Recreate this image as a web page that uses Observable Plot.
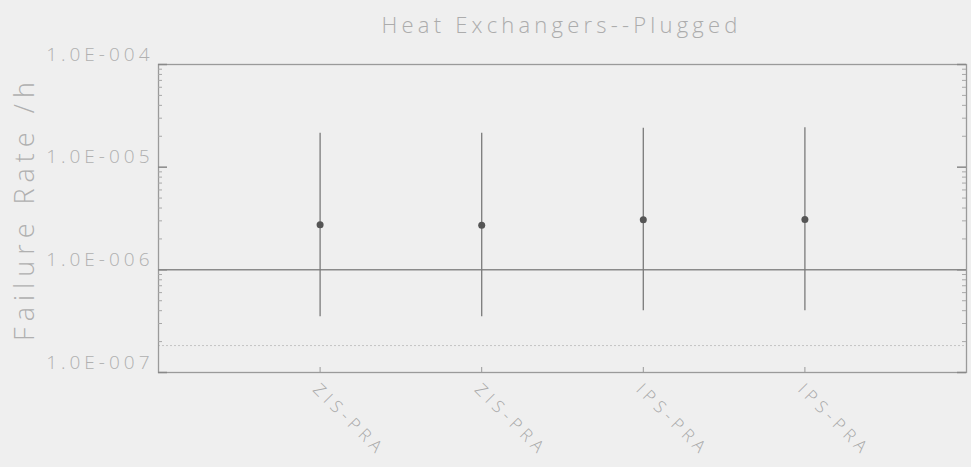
<!DOCTYPE html>
<html>
<head>
<meta charset="utf-8">
<script src="https://cdn.jsdelivr.net/npm/d3@7"></script>
<script src="https://cdn.jsdelivr.net/npm/@observablehq/plot@0.6"></script>
<style>
  body { margin: 0; background: #efefef; font-family: "Open Sans", Lato, sans-serif; }
  #title { height: 40px; width: 971px; position: relative; }
  #title span { position: absolute; left: 157px; width: 809px; top: 9px; text-align: center;
    font-size: 22px; font-weight: 300; color: #acacac; letter-spacing: 4.2px; }
</style>
</head>
<body>
<div id="title"><span>Heat Exchangers--Plugged</span></div>
<div id="chart"></div>
<script>
const labels = ["ZIS-PRA", "ZIS-PRA", "IPS-PRA", "IPS-PRA"];
const positions = [1, 2, 3, 4];
const estimates = [2.75e-6, 2.72e-6, 3.07e-6, 3.1e-6];
const upper = [2.14e-5, 2.14e-5, 2.4e-5, 2.42e-5];
const lower = [3.5e-7, 3.5e-7, 4.0e-7, 4.0e-7];
const refLines = [1e-6];
const dottedLines = [1.83e-7];
const yTickValues = [1e-7, 1e-6, 1e-5, 1e-4];
const yTickLabels = ["1.0E-007", "1.0E-006", "1.0E-005", "1.0E-004"];
const yLabel = "Failure Rate /h";

const data = labels.map((label, i) => ({
  label, pos: positions[i], est: estimates[i], hi: upper[i], lo: lower[i]
}));
const minor = [];
for (let e = -7; e < -4; e++) for (let k = 2; k <= 9; k++) minor.push(k * Math.pow(10, e));
const yTicks = yTickValues.map((v, i) => ({v, t: yTickLabels[i]}));

const W = 971, H = 427, mL = 158, mR = 5, mT = 24, mB = 95;
const fw = W - mL - mR, fh = H - mT - mB;

const chart = Plot.plot({
  width: W, height: H,
  marginLeft: mL, marginRight: mR, marginTop: mT, marginBottom: mB,
  style: { background: "#efefef", fontFamily: "'Open Sans', Lato, sans-serif", color: "#aaa", overflow: "visible" },
  x: { type: "linear", domain: [0, 5], axis: null },
  y: { type: "log", domain: [1e-7, 1e-4], axis: null },
  marks: [
    Plot.ruleY(dottedLines, { stroke: "#c4c4c4", strokeWidth: 1, strokeDasharray: "2,2" }),
    Plot.ruleY(refLines, { stroke: "#8a8a8a", strokeWidth: 1.5 }),
    Plot.frame({ stroke: "#9a9a9a", strokeWidth: 1.3 }),
    Plot.tickY(minor, { stroke: "#a8a8a8", insetRight: fw - 4 }),
    Plot.tickY(minor, { stroke: "#a8a8a8", insetLeft: fw - 4 }),
    Plot.tickY(yTickValues, { stroke: "#888", strokeWidth: 1.5, insetRight: fw - 9 }),
    Plot.tickY(yTickValues, { stroke: "#888", strokeWidth: 1.5, insetLeft: fw - 9 }),
    Plot.tickX(positions, { stroke: "#999", insetTop: fh - 5 }),
    Plot.text(yTicks, { y: "v", text: "t", frameAnchor: "left", textAnchor: "end",
      dx: -5, dy: -10, fontSize: 19, fontWeight: 300, fill: "#b0b0b0" }),
    Plot.text([yLabel], { frameAnchor: "left", textAnchor: "middle", rotate: -90, dx: -133, dy: -10,
      fontSize: 27, fontWeight: 300, fill: "#b0b0b0" }),
    Plot.text(data, { x: "pos", text: "label", frameAnchor: "bottom", rotate: 45,
      textAnchor: "start", dx: -8, dy: 18, fontSize: 17, fontWeight: 300, fill: "#a8a8a8" }),
    Plot.ruleX(data, { x: "pos", y1: "lo", y2: "hi", stroke: "#7a7a7a", strokeWidth: 1.3 }),
    Plot.dot(data, { x: "pos", y: "est", r: 3.5, fill: "#555", stroke: "none" })
  ]
});
d3.select(chart).selectAll("text").each(function () {
  const t = this.textContent;
  if (yTickLabels.includes(t)) this.style.letterSpacing = "4px";
  else if (t === yLabel) this.style.letterSpacing = "6px";
  else if (labels.includes(t)) this.style.letterSpacing = "5px";
});
document.getElementById("chart").appendChild(chart);
</script>
</body>
</html>
